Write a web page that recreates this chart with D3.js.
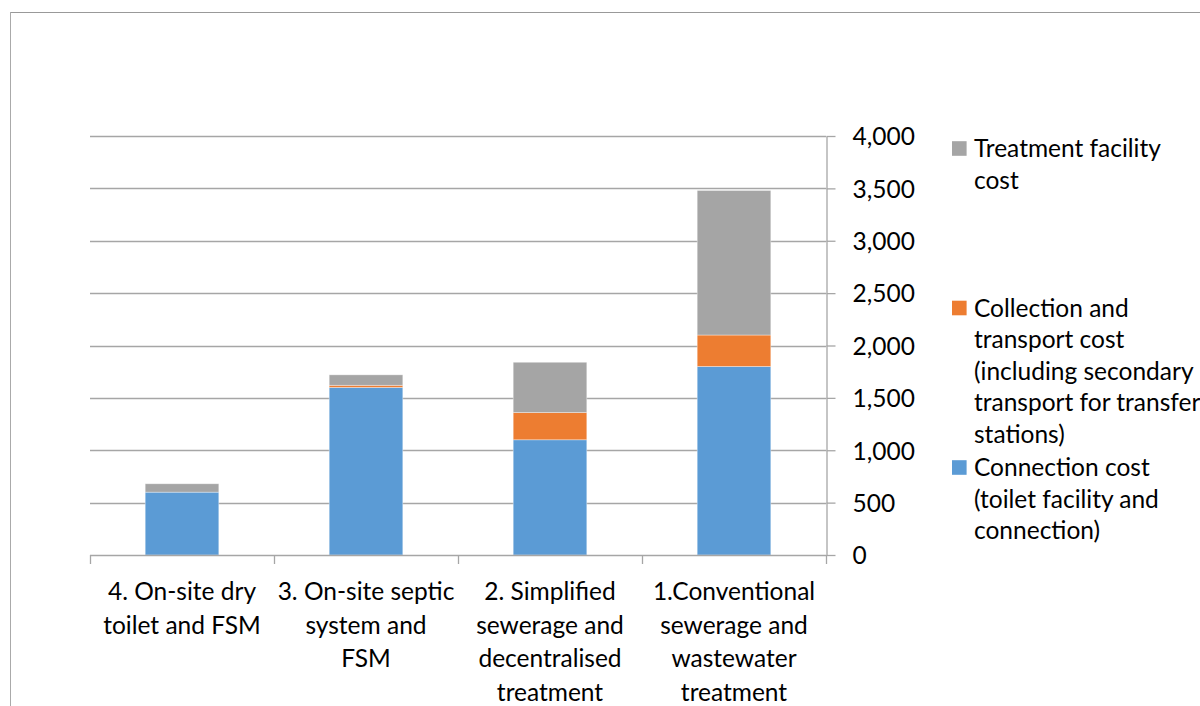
<!DOCTYPE html>
<html>
<head>
<meta charset="utf-8">
<script src="https://cdn.jsdelivr.net/npm/d3@7"></script>
<style>
  html, body { margin: 0; padding: 0; background: #fff; }
  svg { display: block; }
  text { font-family: Lato, "Open Sans", sans-serif; fill: #000; }
</style>
</head>
<body>
<svg id="chart" width="1200" height="706"></svg>
<script>
// Sanitation options (each label split into its displayed lines)
const categories = [
  "4. On-site dry toilet and FSM",
  "3. On-site septic system and FSM",
  "2. Simplified sewerage and decentralised treatment",
  "1.Conventional sewerage and wastewater treatment"
];
const categoryLines = [
  ["4. On-site dry", "toilet and FSM"],
  ["3. On-site septic", "system and", "FSM"],
  ["2. Simplified", "sewerage and", "decentralised", "treatment"],
  ["1.Conventional", "sewerage and", "wastewater", "treatment"]
];

// Cost components per option
const connectionCost = [600, 1600, 1100, 1800];
const collectionCost = [0, 20, 260, 300];
const treatmentCost  = [80, 100, 480, 1380];

const seriesKeys = ["connection", "collection", "treatment"];
const seriesColors = ["#5B9BD5", "#ED7D31", "#A5A5A5"];
const legendLines = {
  treatment: ["Treatment facility", "cost"],
  collection: ["Collection and", "transport cost", "(including secondary", "transport for transfer", "stations)"],
  connection: ["Connection cost", "(toilet facility and", "connection)"]
};

const yTicks = [0, 500, 1000, 1500, 2000, 2500, 3000, 3500, 4000];

const svg = d3.select("#chart");

// Outer frame (top and left edges)
svg.append("line").attr("x1", 10).attr("x2", 1200).attr("y1", 12.5).attr("y2", 12.5)
  .attr("stroke", "#999").attr("stroke-width", 1);
svg.append("line").attr("x1", 10.5).attr("x2", 10.5).attr("y1", 12).attr("y2", 706)
  .attr("stroke", "#aaa").attr("stroke-width", 1);

const plot = { left: 90, right: 826, top: 136, bottom: 555 };

const x = d3.scaleBand()
  .domain(categories)
  .range([plot.left, plot.right])
  .paddingInner(0.6)
  .paddingOuter(0.3);

const y = d3.scaleLinear()
  .domain([0, 4000])
  .range([plot.bottom, plot.top]);

// Horizontal gridlines
svg.append("g")
  .selectAll("line")
  .data(yTicks.filter(d => d > 0))
  .join("line")
  .attr("x1", plot.left)
  .attr("x2", plot.right)
  .attr("y1", d => Math.round(y(d)) + 0.5)
  .attr("y2", d => Math.round(y(d)) + 0.5)
  .attr("stroke", "#a6a6a6")
  .attr("stroke-width", 1.3);

// Stacked bars
const table = categories.map((c, i) => ({
  category: c,
  connection: connectionCost[i],
  collection: collectionCost[i],
  treatment: treatmentCost[i]
}));
const stacked = d3.stack().keys(seriesKeys)(table);

svg.append("g")
  .selectAll("g")
  .data(stacked)
  .join("g")
  .attr("fill", (d, i) => seriesColors[i])
  .selectAll("rect")
  .data(d => d.filter(s => s[1] - s[0] > 0))
  .join("rect")
  .attr("x", d => x(d.data.category))
  .attr("width", x.bandwidth())
  .attr("y", d => y(d[1]))
  .attr("height", d => y(d[0]) - y(d[1]))
  .attr("stroke", "rgba(255,255,255,0.45)")
  .attr("stroke-width", 0.8);

// Category axis along the bottom
const step = x.step();
const boundaries = d3.range(categories.length + 1).map(i => plot.left + i * step);
const xAxis = svg.append("g");
xAxis.append("line")
  .attr("x1", plot.left).attr("x2", plot.right)
  .attr("y1", plot.bottom + 0.5).attr("y2", plot.bottom + 0.5)
  .attr("stroke", "#a6a6a6").attr("stroke-width", 1.3);
xAxis.selectAll("line.tick")
  .data(boundaries)
  .join("line")
  .attr("class", "tick")
  .attr("x1", d => Math.round(d) + 0.5)
  .attr("x2", d => Math.round(d) + 0.5)
  .attr("y1", plot.bottom)
  .attr("y2", plot.bottom + 9)
  .attr("stroke", "#a6a6a6").attr("stroke-width", 1.3);

const labelFont = 24.5;
xAxis.selectAll("text")
  .data(categories)
  .join("text")
  .attr("text-anchor", "middle")
  .attr("font-size", labelFont)
  .each(function (c, i) {
    const cx = x(c) + x.bandwidth() / 2;
    d3.select(this).selectAll("tspan")
      .data(categoryLines[i])
      .join("tspan")
      .attr("x", cx)
      .attr("y", (d, j) => 600 + j * 33.6)
      .text(d => d);
  });

// Value axis on the right
const yAxis = svg.append("g")
  .attr("transform", `translate(${plot.right + 0.5},0)`)
  .call(d3.axisRight(y)
    .tickValues(yTicks)
    .tickSize(9)
    .tickSizeOuter(0)
    .tickPadding(17)
    .tickFormat(d3.format(",")));
yAxis.select(".domain").attr("stroke", "#a6a6a6").attr("stroke-width", 1.3);
yAxis.selectAll(".tick line").attr("stroke", "#a6a6a6").attr("stroke-width", 1.3);
yAxis.selectAll(".tick text")
  .attr("font-family", "Lato, 'Open Sans', sans-serif")
  .attr("font-size", labelFont)
  .attr("fill", "#000")
  .attr("dy", "0.36em");

// Legend
const legendItems = [
  { key: "treatment", color: seriesColors[2], top: 148.5 },
  { key: "collection", color: seriesColors[1], top: 308 },
  { key: "connection", color: seriesColors[0], top: 467.5 }
];
const legend = svg.append("g");
legendItems.forEach(item => {
  legend.append("rect")
    .attr("x", 952)
    .attr("y", item.top - 7.3)
    .attr("width", 14.6)
    .attr("height", 14.6)
    .attr("fill", item.color);
  legend.append("text")
    .attr("font-size", labelFont)
    .selectAll("tspan")
    .data(legendLines[item.key])
    .join("tspan")
    .attr("x", 974)
    .attr("y", (d, j) => item.top + 8.6 + j * 31.6)
    .text(d => d);
});
</script>
</body>
</html>
